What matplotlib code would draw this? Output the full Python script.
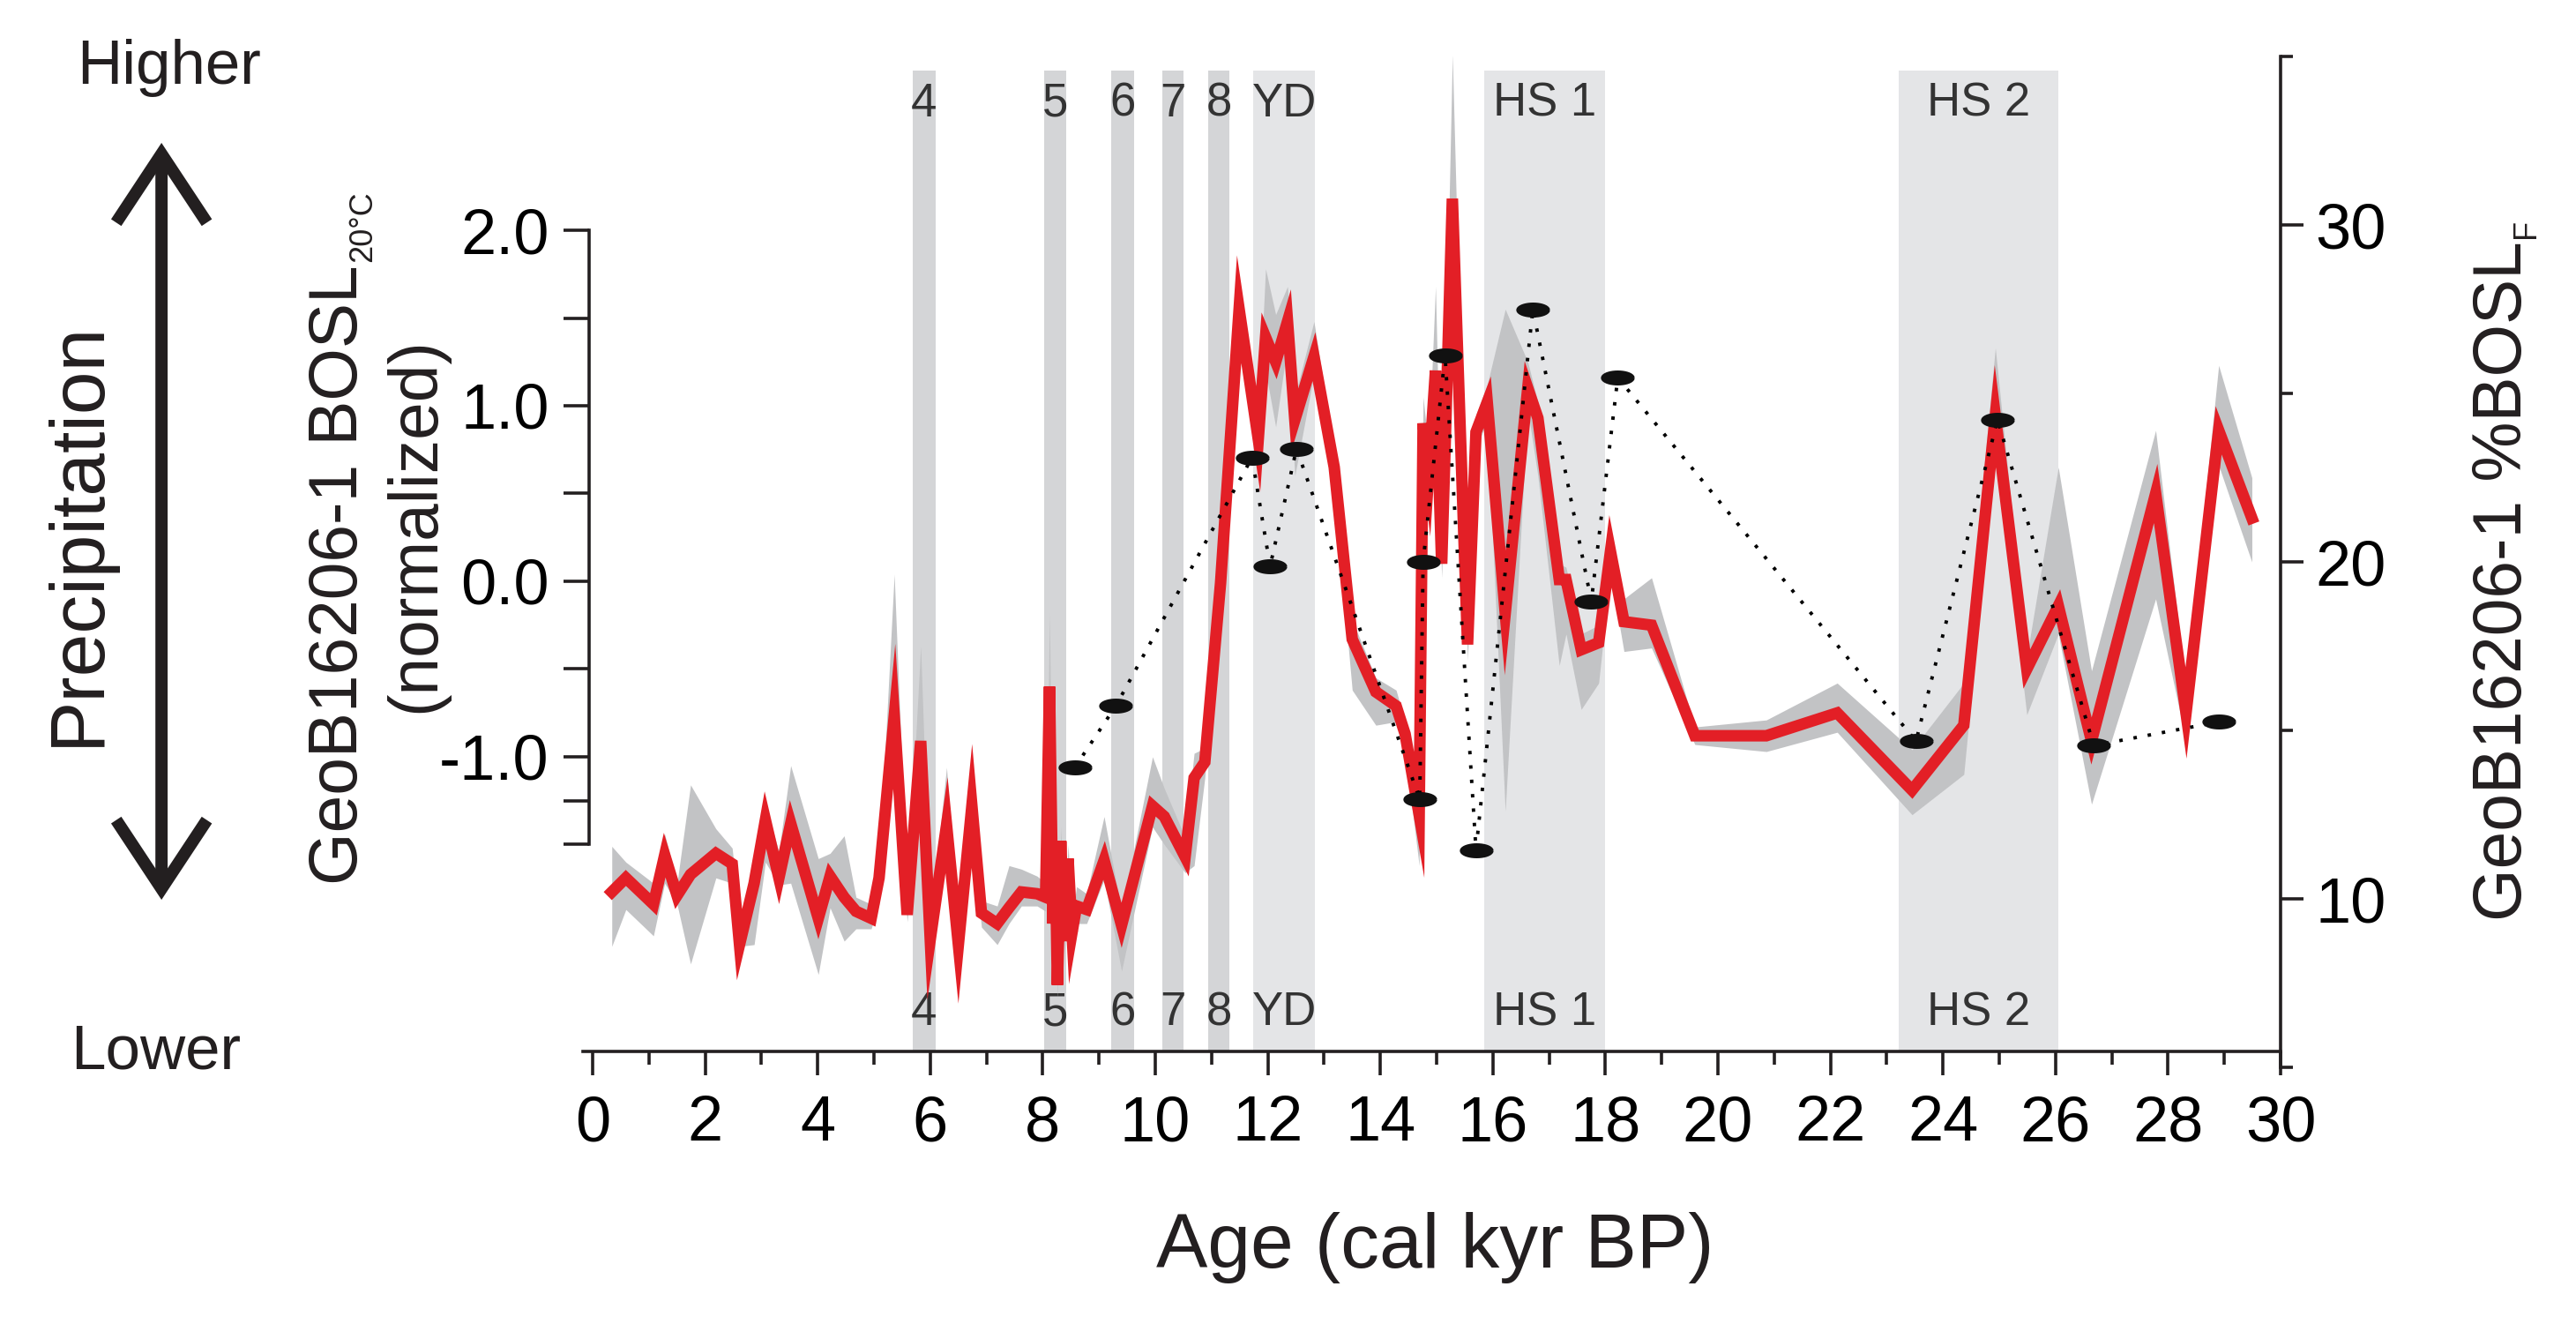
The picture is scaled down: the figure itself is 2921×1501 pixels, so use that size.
import numpy as np
import matplotlib
matplotlib.use("Agg")
import matplotlib.pyplot as plt
from matplotlib.ticker import FixedLocator, FormatStrFormatter

plt.rcParams['font.family'] = ['Liberation Sans', 'DejaVu Sans']

# red BOSL record (normalized) with its grey envelope
age = [0.34, 0.59, 1.08, 1.28, 1.50, 1.74, 2.19, 2.48, 2.61, 2.87, 3.07, 3.31, 3.52, 4.01,
       4.22, 4.47, 4.68, 4.95, 5.09, 5.36, 5.59, 5.83, 6.00, 6.29, 6.50, 6.74, 6.91, 7.19,
       7.40, 7.62, 7.90, 8.05, 8.12, 8.18, 8.22, 8.26, 8.32, 8.38, 8.45, 8.52, 8.60, 8.78,
       9.09, 9.40, 9.95, 10.16, 10.53, 10.69, 10.88, 11.16, 11.49, 11.83, 11.96, 12.14,
       12.35, 12.48, 12.82, 13.18, 13.50, 13.92, 14.28, 14.44, 14.69, 14.76, 14.86, 14.98,
       15.09, 15.28, 15.55, 15.70, 15.90, 16.22, 16.62, 16.80, 17.18, 17.30, 17.57, 17.88,
       18.09, 18.33, 18.82, 19.59, 20.86, 22.12, 23.45, 24.37, 24.93, 25.49, 26.05, 26.64,
       27.78, 28.32, 28.90, 29.49]
bosl = [-1.77, -1.69, -1.84, -1.56, -1.79, -1.67, -1.55, -1.61, -2.07, -1.72, -1.36, -1.69,
        -1.38, -1.92, -1.68, -1.80, -1.88, -1.92, -1.69, -0.77, -1.90, -0.91, -2.04, -1.39,
        -2.07, -1.28, -1.89, -1.95, -1.86, -1.77, -1.78, -1.80, -0.60, -1.95, -1.50, -2.30,
        -1.48, -2.05, -1.58, -2.00, -1.85, -1.87, -1.59, -1.96, -1.28, -1.34, -1.57, -1.12,
        -1.03, -0.01, 1.55, 0.81, 1.39, 1.25, 1.48, 0.92, 1.28, 0.65, -0.33, -0.63, -0.71,
        -0.87, -1.33, 0.90, 0.62, 1.20, 0.10, 2.18, -0.36, 0.85, 1.02, -0.18, 1.10, 0.93,
        0.01, 0.01, -0.39, -0.35, 0.17, -0.23, -0.25, -0.88, -0.88, -0.75, -1.19, -0.82,
        0.94, -0.50, -0.14, -0.91, 0.50, -0.75, 0.86, 0.36]
bosl_lo = [-2.08, -1.87, -2.02, -1.72, -1.84, -2.18, -1.69, -1.72, -2.08, -2.07, -1.60, -1.73,
           -1.72, -2.24, -1.86, -2.05, -1.98, -1.98, -1.84, -0.95, -1.94, -1.10, -2.09, -1.55,
           -2.10, -1.42, -1.97, -2.07, -1.95, -1.85, -1.85, -1.88, -0.75, -2.05, -1.60, -2.38,
           -1.58, -2.12, -1.66, -2.08, -1.95, -1.95, -1.70, -2.22, -1.40, -1.50, -1.66, -1.62,
           -1.12, -0.08, 1.45, 0.72, 1.20, 0.88, 1.35, 0.60, 1.18, 0.52, -0.62, -0.82, -0.80,
           -0.96, -1.62, 0.80, 0.55, 1.10, 0.02, 2.05, -0.45, 0.75, 0.92, -1.31, 0.98, 0.60,
           -0.48, -0.30, -0.73, -0.58, 0.05, -0.40, -0.38, -0.93, -0.97, -0.86, -1.33, -1.10,
           0.77, -0.76, -0.30, -1.27, -0.10, -0.91, 0.66, 0.11]
bosl_hi = [-1.51, -1.60, -1.72, -1.44, -1.72, -1.16, -1.41, -1.52, -1.92, -1.66, -1.27, -1.54,
           -1.05, -1.58, -1.55, -1.45, -1.80, -1.84, -1.63, 0.04, -1.80, -0.37, -1.95, -1.06,
           -1.98, -1.12, -1.82, -1.85, -1.62, -1.64, -1.68, -1.72, -0.18, -1.85, -1.40, -2.20,
           -1.40, -1.95, -1.50, -1.92, -1.74, -1.78, -1.34, -1.88, -1.00, -1.18, -1.46, -0.98,
           -0.95, 0.06, 1.72, 0.92, 1.78, 1.52, 1.68, 1.05, 1.48, 0.74, -0.22, -0.55, -0.62,
           -0.80, -1.22, 1.05, 0.75, 1.68, 0.22, 3.00, -0.22, 0.95, 1.12, 1.55, 1.25, 1.02,
           0.10, 0.08, -0.30, -0.25, 0.22, -0.10, 0.02, -0.83, -0.79, -0.58, -0.96, -0.58,
           1.33, -0.43, 0.65, -0.51, 0.86, -0.60, 1.23, 0.59]

# %BOSL_F (right axis)
osl_age = [8.57, 9.30, 11.72, 12.04, 12.51, 14.70, 14.76, 15.15, 15.70, 16.71, 17.75, 18.22,
           23.52, 24.97, 26.68, 28.90]
osl_pct = [13.9, 15.73, 23.1, 19.87, 23.36, 12.95, 20.0, 26.12, 11.45, 27.5, 18.83, 25.47,
           14.68, 24.22, 14.55, 15.25]

# shaded events
band_start = [5.69, 8.02, 9.22, 10.12, 10.94, 11.74, 15.85, 23.22]
band_end = [6.09, 8.42, 9.62, 10.50, 11.32, 12.84, 18.00, 26.05]
band_label = ['4', '5', '6', '7', '8', 'YD', 'HS 1', 'HS 2']
band_wide = [False, False, False, False, False, True, True, True]

RED = '#e31f26'
INK = '#231f20'
W, H = 2921, 1501


def fx(px):
    return px / W


def fy(py):
    # py measured from the top of the picture
    return 1 - py / H


fig = plt.figure(figsize=(W / 200, H / 200), dpi=200)
ax = fig.add_axes([0.22636, 0.19387, 0.65895, 0.76349])
ax.set_xlim(-0.17, 30.0)
ax.set_ylim(-2.769, 2.99)
ax.patch.set_visible(False)

band_top = 2.91
band_bot = -2.68
for x0, x1, lab, wide in zip(band_start, band_end, band_label, band_wide):
    col = '#e4e5e7' if wide else '#d4d5d7'
    ax.fill_between([x0, x1], band_bot, band_top, color=col, lw=0, zorder=0)
    xc = (x0 + x1) / 2
    ax.text(xc, 2.65, lab, ha='center', va='baseline', fontsize=19, color='#333333', zorder=1)
    ax.text(xc, -2.53, lab, ha='center', va='baseline', fontsize=19, color='#333333', zorder=1)

ax.fill_between(age, bosl_lo, bosl_hi, color='#c2c3c5', lw=0, zorder=2)
ax.plot(age, bosl, color=RED, lw=4.7, zorder=3, solid_joinstyle='miter')

for s in ['top', 'right']:
    ax.spines[s].set_visible(False)
ax.spines['left'].set_position(('data', -0.06))
ax.spines['left'].set_bounds(-1.5, 2.0)
ax.spines['bottom'].set_position(('data', -2.68))
ax.spines['bottom'].set_bounds(-0.17, 30.0)
for s in ['left', 'bottom']:
    ax.spines[s].set_linewidth(1.3)
    ax.spines[s].set_color(INK)

ax.yaxis.set_major_locator(FixedLocator([-1.0, 0.0, 1.0, 2.0]))
ax.yaxis.set_minor_locator(FixedLocator([-1.5, -1.25, -0.5, 0.5, 1.5]))
ax.yaxis.set_major_formatter(FormatStrFormatter('%.1f'))
ax.xaxis.set_major_locator(FixedLocator(np.arange(0, 31, 2)))
ax.xaxis.set_minor_locator(FixedLocator(np.arange(1, 30, 2)))
ax.tick_params(axis='y', which='both', direction='out', length=10.4, width=1.3,
               color=INK, labelsize=26, pad=6)
ax.tick_params(axis='x', which='major', direction='out', length=9.6, width=1.3,
               color=INK, labelsize=26, pad=8)
ax.tick_params(axis='x', which='minor', direction='out', length=5.5, width=1.3, color=INK)

ax2 = ax.twinx()
ax2.set_ylim(5, 35)
for s in ['top', 'left', 'bottom']:
    ax2.spines[s].set_visible(False)
ax2.spines['right'].set_bounds(5, 35)
ax2.spines['right'].set_linewidth(1.3)
ax2.spines['right'].set_color(INK)
ax2.yaxis.set_major_locator(FixedLocator([10, 20, 30]))
ax2.yaxis.set_minor_locator(FixedLocator([5, 15, 25, 35]))
ax2.tick_params(axis='y', which='major', direction='out', length=9.4, width=1.3,
                color=INK, labelsize=26, pad=4.7)
ax2.tick_params(axis='y', which='minor', direction='out', length=5, width=1.3, color=INK)

theta = np.linspace(0, 2 * np.pi, 41)
ellipse = np.column_stack([np.cos(theta), 0.4 * np.sin(theta)])
ax2.plot(osl_age, osl_pct, color='black', lw=1.4, linestyle=(0, (1, 3.2)), zorder=4)
ax2.plot(osl_age, osl_pct, linestyle='none', marker=ellipse, markersize=12.8,
         color='#111111', zorder=5)

# axis titles
fig.text(0.5569, 0.0426, 'Age (cal kyr BP)', ha='center', va='baseline', fontsize=31.5,
         color=INK)

renderer = fig.canvas.get_renderer()


def vlabel(x_base, y_start, main, sub, x_sub, size=27.6, subsize=13):
    # vertical title with a small subscript on its end
    t = fig.text(fx(x_base), fy(y_start), main, rotation=90, rotation_mode='anchor',
                 ha='left', va='baseline', fontsize=size, color=INK)
    length = t.get_window_extent(renderer).height
    fig.text(fx(x_sub), fy(y_start - length - 3), sub, rotation=90, rotation_mode='anchor',
             ha='left', va='baseline', fontsize=subsize, color=INK)


vlabel(405, 1003, 'GeoB16206-1 BOSL', '20°C', 421)
fig.text(fx(472), fy(595), '(normalized)', rotation=90, ha='center', va='center',
         fontsize=27.6, color=INK)
vlabel(2859, 1044, 'GeoB16206-1 %BOSL', 'F', 2874)

fig.text(0.0654, 0.9367, 'Higher', ha='center', va='baseline', fontsize=25.5, color=INK)
fig.text(0.0606, 0.1932, 'Lower', ha='center', va='baseline', fontsize=25.5, color=INK)
fig.text(0.0305, 0.597, 'Precipitation', rotation=90, ha='center', va='center',
         fontsize=31.5, color=INK)
fig.patches.append(matplotlib.patches.FancyArrowPatch(
    (0.0627, 0.3204), (0.0627, 0.8921), transform=fig.transFigure,
    arrowstyle='<->,head_length=2.8,head_width=1.85', mutation_scale=10,
    lw=5, color=INK, shrinkA=0, shrinkB=0, capstyle='butt', joinstyle='miter'))

fig.savefig('out.png', dpi=200)
